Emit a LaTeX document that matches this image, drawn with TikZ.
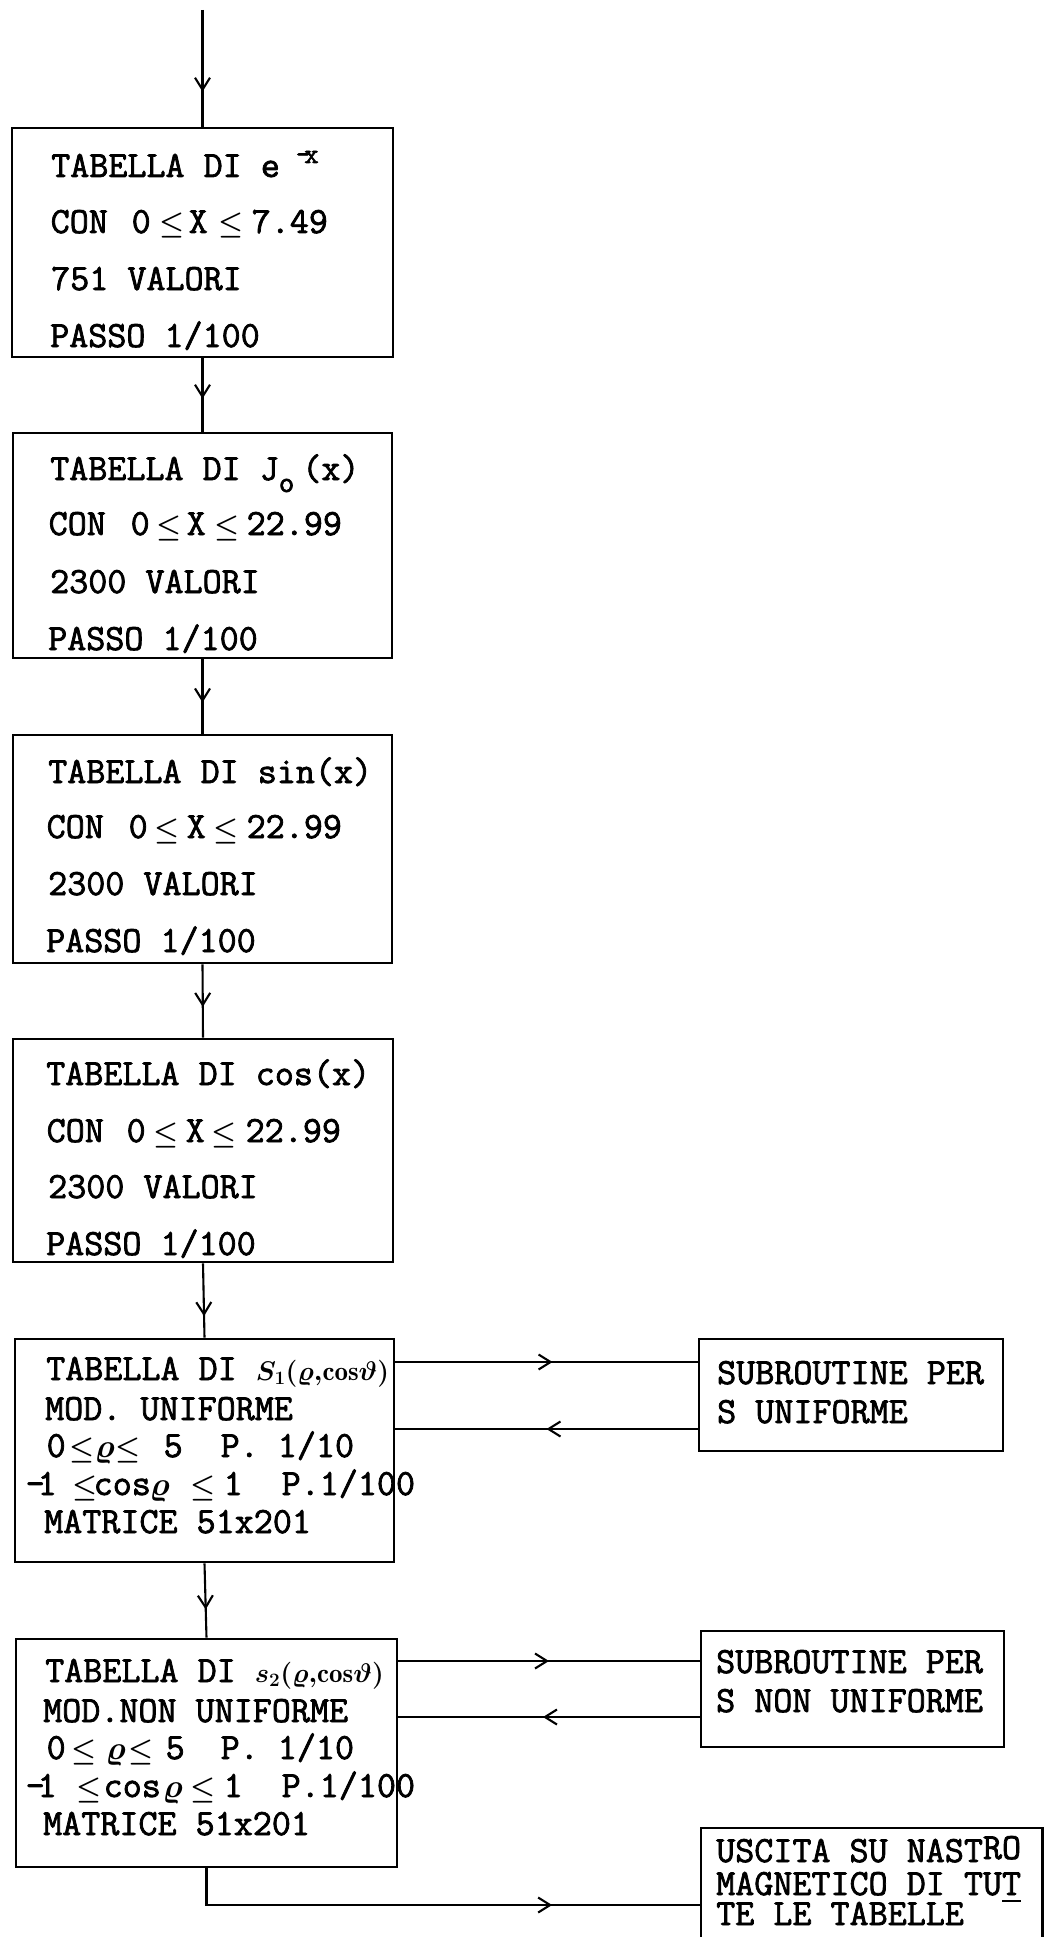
\RequirePackage{fix-cm}
\documentclass[tikz,border=0pt]{standalone}
\usepackage{fontspec}
\usepackage{amsmath,amsbsy}
\newfontfamily\twfont{Latin Modern Mono}[FakeBold=2]
\usetikzlibrary{arrows.meta,decorations.markings}
\newcommand\mle{\makebox[19.5pt]{\fontsize{28}{28}\selectfont$\boldsymbol{\leq}$}}
\newcommand\pl[2]{\rlap{\hspace*{#1pt}#2}}
\newcommand\hw[1]{{\fontsize{27}{27}\selectfont\boldmath$#1$}}
\newcommand\rh{{\fontsize{33}{33}\selectfont\boldmath$\varrho$}}
\begin{document}
\begin{tikzpicture}[x=1pt,y=-1pt,
  box/.style={draw, line width=2.6pt, inner sep=0pt},
  boxline/.style={line width=2.6pt},
  txt/.style={anchor=base west, inner sep=0pt, font=\twfont\fontsize{37}{37}\selectfont},
  conn/.style={line width=2.1pt},
  midarrow/.style={postaction={decorate,decoration={markings,
     mark=at position #1 with {\arrow{Straight Barb[length=12pt,width=15pt]}}}}}]
\fill[white] (0,0) rectangle (1044,1937);
\useasboundingbox (0,0) rectangle (1044,1937);

% boxes
\node[box, minimum width=381pt, minimum height=229pt] (b1) at (202.5,242.5) {};
\node[box, minimum width=379pt, minimum height=225pt] (b2) at (202.5,545.5) {};
\node[box, minimum width=379pt, minimum height=228pt] (b3) at (202.5,849) {};
\node[box, minimum width=380pt, minimum height=223pt] (b4) at (203,1150.5) {};
\node[box, minimum width=379pt, minimum height=223pt] (b5) at (204.5,1450.5) {};
\node[box, minimum width=381pt, minimum height=228pt] (b6) at (206.5,1753) {};
\node[box, minimum width=304pt, minimum height=112pt] (s1) at (851,1395) {};
\node[box, minimum width=303pt, minimum height=116pt] (s2) at (852.5,1689) {};
\node[inner sep=0pt, minimum width=341pt, minimum height=109pt] (u) at (871.5,1882.5) {};
\draw[boxline] (u.south west) -- (u.north west) -- (u.north east) -- (u.south east);

% box 1
\node[txt] (b1t1) at (51,177) {TABELLA DI e\kern16pt\raisebox{14pt}{\fontsize{28}{28}\selectfont-\kern-6pt x}};
\node[txt] (b1t2) at (50,233) {\pl{0}{CON}\pl{81}{0}\pl{112}{\mle}\pl{138}{X}\pl{171}{\mle}\pl{201}{7.49}};
\node[txt] (b1t3) at (51,290) {751 VALORI};
\node[txt] (b1t4) at (50,347) {PASSO 1/100};

% box 2
\node[txt] (b2t1) at (50,480) {TABELLA DI J\raisebox{-12pt}{\fontsize{30}{30}\selectfont o}\kern8pt(x)};
\node[txt] (b2t2) at (48,535) {\pl{0}{CON}\pl{82}{0}\pl{111}{\mle}\pl{138}{X}\pl{169}{\mle}\pl{198}{22.99}};
\node[txt] (b2t3) at (50,593) {2300 VALORI};
\node[txt] (b2t4) at (48,650) {PASSO 1/100};

% box 3
\node[txt] (b3t1) at (48,783) {TABELLA DI sin(x)};
\node[txt] (b3t2) at (46,838) {\pl{0}{CON}\pl{82}{0}\pl{111}{\mle}\pl{140}{X}\pl{170}{\mle}\pl{200}{22.99}};
\node[txt] (b3t3) at (48,895) {2300 VALORI};
\node[txt] (b3t4) at (46,952) {PASSO 1/100};

% box 4
\node[txt] (b4t1) at (46,1085) {TABELLA DI cos(x)};
\node[txt] (b4t2) at (46,1142) {\pl{0}{CON}\pl{80}{0}\pl{110}{\mle}\pl{139}{X}\pl{168}{\mle}\pl{199}{22.99}};
\node[txt] (b4t3) at (48,1198) {2300 VALORI};
\node[txt] (b4t4) at (46,1255) {PASSO 1/100};

% box 5
\node[txt] (b5t1) at (46,1380) {TABELLA DI \hw{S_1(\varrho{,}\mathrm{cos}\vartheta)}};
\node[txt] (b5t2) at (45,1420) {MOD. UNIFORME};
\node[txt] (b5t3) at (46,1457) {\pl{0}{0}\pl{26}{\mle}\pl{48}{\rh}\pl{72}{\mle}\pl{117}{5}\pl{174}{P. 1/10}};
\node[txt] (b5t4) at (25,1495) {\pl{0}{-}\pl{12}{1}\pl{50}{\mle}\pl{68}{cos}\pl{124}{\rh}\pl{168}{\mle}\pl{198}{1}\pl{256}{P.1/100}};
\node[txt] (b5t5) at (44,1533) {MATRICE 51x201};

% box 6
\node[txt] (b6t1) at (45,1682) {TABELLA DI \hw{s_2(\varrho{,}\mathrm{cos}\vartheta)}};
\node[txt] (b6t2) at (43,1722) {MOD.NON UNIFORME};
\node[txt] (b6t3) at (46,1759) {\pl{0}{0}\pl{28}{\mle}\pl{59}{\rh}\pl{85}{\mle}\pl{119}{5}\pl{174}{P. 1/10}};
\node[txt] (b6t4) at (25,1797) {\pl{0}{-}\pl{12}{1}\pl{54}{\mle}\pl{78}{cos}\pl{137}{\rh}\pl{168}{\mle}\pl{198}{1}\pl{256}{P.1/100}};
\node[txt] (b6t5) at (43,1835) {MATRICE 51x201};

% subroutine boxes
\node[txt] (s1t1) at (717,1384) {SUBROUTINE PER};
\node[txt] (s1t2) at (717,1423) {S UNIFORME};
\node[txt] (s2t1) at (716,1673) {SUBROUTINE PER};
\node[txt] (s2t2) at (716,1712) {S NON UNIFORME};

% output box
\node[txt] (ut1) at (716,1862) {USCITA SU NAST\raisebox{3pt}{RO}};
\node[txt] (ut2) at (716,1895) {MAGNETICO DI TU\rlap{\rule[-7pt]{19pt}{2.2pt}}T};
\node[txt] (ut3) at (716,1925) {TE LE TABELLE};

% helper coordinates
\coordinate (top) at (202.5,10);
\coordinate (y1) at (0,1362);
\coordinate (y2) at (0,1429);
\coordinate (y3) at (0,1661);
\coordinate (y4) at (0,1717);
\coordinate (y5) at (0,1905);

% connectors
\draw[conn, midarrow=0.70] (top) -- (b1.north);
\draw[conn, midarrow=0.55] (b1.south) -- (b2.north);
\draw[conn, midarrow=0.58] (b2.south) -- (b3.north);
\draw[conn, midarrow=0.58] (b3.south) -- (b4.north);
\draw[conn, midarrow=0.71] (b4.south) -- (b5.north);
\draw[conn, midarrow=0.62] (b5.south) -- (b6.north);
\draw[conn, midarrow=0.52] (b5.east |- y1) -- (s1.west |- y1);
\draw[conn, midarrow=0.50] (s1.west |- y2) -- (b5.east |- y2);
\draw[conn, midarrow=0.50] (b6.east |- y3) -- (s2.west |- y3);
\draw[conn, midarrow=0.52] (s2.west |- y4) -- (b6.east |- y4);
\draw[conn, midarrow=0.72] (b6.south) |- (u.west |- y5);
\end{tikzpicture}
\end{document}
